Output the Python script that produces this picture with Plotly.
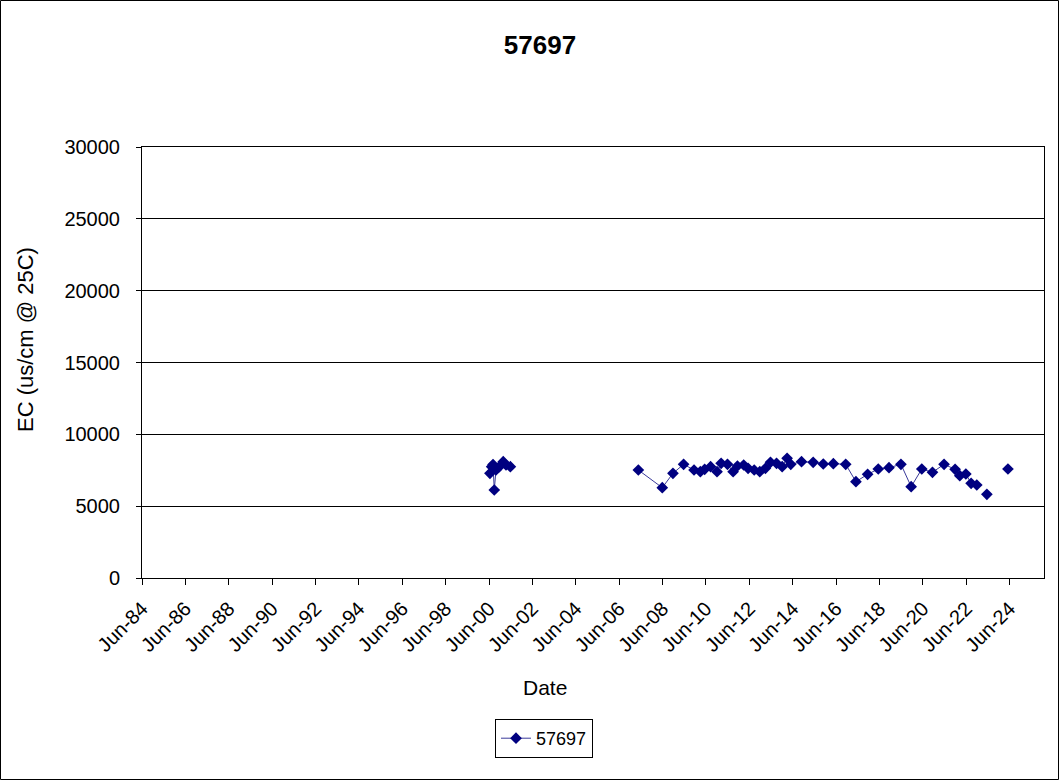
import plotly.graph_objects as go

# Sample dates (None marks a break in the line, as in the source chart)
dates = [
    "2000-06-16", "2000-07-15", "2000-08-07", "2000-08-28", "2000-09-26",
    "2000-11-21", "2001-01-26", "2001-03-14", "2001-05-26",
    None,
    "2007-04-20", "2008-05-27", "2008-11-23", "2009-05-21", "2009-11-13",
    "2010-02-27", "2010-05-11", "2010-08-19", "2010-12-05", "2011-02-12",
    "2011-05-30", "2011-09-02", "2011-11-14", "2012-02-27", "2012-05-11",
    "2012-08-22", "2012-11-24", "2013-02-27", "2013-05-23", "2013-09-02",
    "2013-12-06", "2014-02-27", "2014-04-30", "2014-10-28", "2015-05-12",
    "2015-10-29", "2016-04-16", "2016-11-10", "2017-05-01", "2017-11-14",
    "2018-05-12", "2018-11-09", "2019-05-29", "2019-11-17", "2020-05-14",
    "2020-11-10", "2021-05-24", "2021-11-26", "2022-02-13", "2022-05-26",
    "2022-08-23", "2022-11-26",
    None,
    "2023-05-15",
    None,
    "2024-05-04",
]
ec_values = [
    7288, 7747, 7900, 6125, 7517,
    7747, 8095, 7865, 7747,
    None,
    7517, 6286, 7288, 7914, 7517,
    7400, 7566, 7747, 7400, 7984,
    7914, 7400, 7796, 7865, 7635,
    7517, 7400, 7635, 8053, 7984,
    7747, 8331, 7914, 8095, 8053,
    7935, 7956, 7914, 6703, 7218,
    7587, 7677, 7914, 6355, 7587,
    7357, 7914, 7566, 7121, 7239,
    6592, 6473,
    None,
    5826,
    None,
    7587,
]

series_name = "57697"
chart_title = "57697"
y_title = "EC (us/cm @ 25C)"
x_title = "Date"
x_range = ["1984-06-01", "2026-01-01"]
y_range = [0, 30000]

FONT = "Liberation Sans, Arial, sans-serif"
NAVY = "#000080"

fig = go.Figure()
fig.add_trace(go.Scatter(
    x=dates, y=ec_values, name=series_name,
    mode="lines+markers",
    connectgaps=False,
    line=dict(color="#3a3a9a", width=1),
    marker=dict(symbol="diamond", size=9, color=NAVY, line=dict(width=0)),
))

L, R, T, B = 142, 15, 147, 202
W, H = 1059, 780
pw = W - L - R
ph = H - T - B

fig.update_layout(
    width=W, height=H,
    margin=dict(l=L, r=R, t=T, b=B, pad=0),
    paper_bgcolor="white", plot_bgcolor="white",
    font=dict(family=FONT, size=20, color="black"),
    title=dict(text="<b>" + chart_title + "</b>", x=540 / W, xanchor="center",
               y=1 - 45 / H, yanchor="middle", font=dict(size=26, family=FONT)),
    showlegend=True,
    legend=dict(x=(495 - L) / pw, y=(578 - 719) / ph, xanchor="left", yanchor="top",
                bordercolor="black", borderwidth=1, bgcolor="white",
                font=dict(size=18, family=FONT), itemwidth=30),
    xaxis=dict(
        type="date", range=x_range, tick0="1984-06-01", dtick="M24",
        tickformat="%b-%y", tickangle=-45, ticks="outside", ticklen=6,
        tickcolor="black", showline=True, linecolor="black", linewidth=1,
        mirror=True, showgrid=False, zeroline=False,
        tickfont=dict(size=20, family=FONT), ticklabelstandoff=4,
    ),
    yaxis=dict(
        range=y_range, dtick=5000, tickformat="d", ticks="outside", ticklen=5,
        tickcolor="black", showline=True, linecolor="black", linewidth=1,
        mirror=True, showgrid=True, gridcolor="black", gridwidth=1,
        zeroline=False, tickfont=dict(size=20, family=FONT),
        ticklabelstandoff=12,
    ),
    annotations=[
        dict(text=y_title, xref="paper", yref="paper", x=(25 - L) / pw,
             y=(578 - 340) / ph, textangle=-90, showarrow=False,
             xanchor="center", yanchor="middle",
             font=dict(size=22, family=FONT)),
        dict(text=x_title, xref="paper", yref="paper", x=(545 - L) / pw,
             y=(578 - 687) / ph, showarrow=False, xanchor="center",
             yanchor="middle", font=dict(size=21, family=FONT)),
    ],
    shapes=[
        dict(type="rect", xref="paper", yref="paper",
             x0=(0.5 - L) / pw, x1=(W - 0.5 - L) / pw,
             y0=(578 - (H - 0.5)) / ph, y1=(578 - 0.5) / ph,
             line=dict(color="black", width=1), fillcolor="rgba(0,0,0,0)",
             layer="below"),
    ],
)

fig.write_html("out.html", config={"displayModeBar": False},
               post_script="document.body.style.margin='0';")
